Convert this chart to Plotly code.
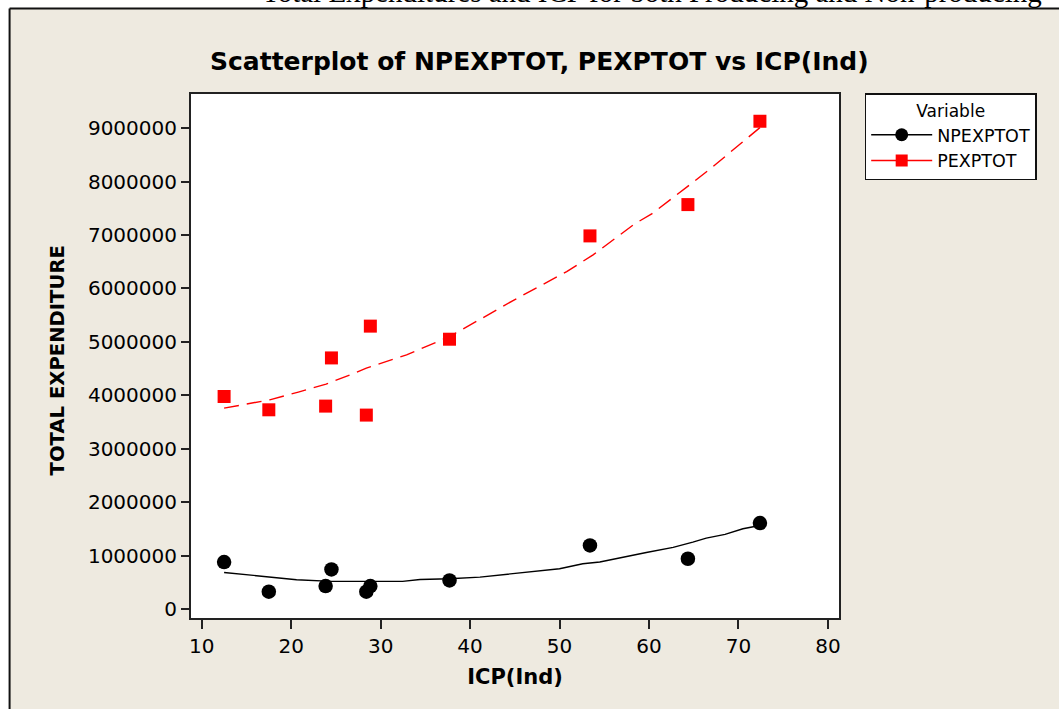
import plotly.graph_objects as go

# ---------------- data ----------------
icp = [12.5, 17.5, 23.85, 24.5, 28.4, 28.85, 37.7, 53.4, 64.35, 72.4]
npexptot = [879000, 324000, 430000, 741000, 324000, 430000, 535000, 1190000, 941000, 1609000]
pexptot = [3978000, 3729000, 3798000, 4700000, 3630000, 5295000, 5050000, 6984000, 7570000, 9130000]

# smoother (lowess) curves as drawn in the reference
np_fit_x = [12.5, 20.6, 24.5, 32.45, 34.4, 37.7, 41.1, 50.0, 52.6, 54.5, 59.7, 62.7, 64.9, 66.4, 68.5, 70.5, 72.4]
np_fit_y = [685000, 548000, 517000, 517000, 554000, 567000, 598000, 754000, 848000, 879000,
            1059000, 1153000, 1253000, 1328000, 1396000, 1502000, 1564000]
p_fit_x = [12.5, 16.5, 17.6, 20.8, 23.9, 26.6, 28.4, 32.9, 37.7, 41.1, 44.8, 50.8, 53.75, 58.4,
           60.3, 64.4, 66.8, 70.5, 72.4]
p_fit_y = [3760000, 3873000, 3916000, 4060000, 4210000, 4384000, 4509000, 4758000, 5100000, 5420000,
           5774000, 6316000, 6629000, 7209000, 7396000, 7920000, 8232000, 8748000, 9010000]

x_tickvals = [10, 20, 30, 40, 50, 60, 70, 80]
y_tickvals = [0, 1000000, 2000000, 3000000, 4000000, 5000000, 6000000, 7000000, 8000000, 9000000]
y_ticktext = ["0", "1000000", "2000000", "3000000", "4000000", "5000000", "6000000",
              "7000000", "8000000", "9000000"]

series_names = ["NPEXPTOT", "PEXPTOT"]

# ---------------- layout helpers ----------------
W, H = 1059, 709
L, R, T, B = 191, 839.3, 94, 618.3
BG = "#EEEAE0"
FONT = "DejaVu Sans"


def px2x(p):
    return (p - L) / (R - L)


def py2y(p):
    return (B - p) / (B - T)


fig = go.Figure()

# fitted curves
fig.add_trace(go.Scatter(x=np_fit_x, y=np_fit_y, mode="lines", showlegend=False,
                         line=dict(color="black", width=1.4), hoverinfo="skip"))
fig.add_trace(go.Scatter(x=p_fit_x, y=p_fit_y, mode="lines", showlegend=False,
                         line=dict(color="#FF0000", width=1.4, dash="15px,8px"), hoverinfo="skip"))

# points
fig.add_trace(go.Scatter(x=icp, y=npexptot, mode="markers", showlegend=False, name=series_names[0],
                         marker=dict(symbol="circle", size=14.5, color="black")))
fig.add_trace(go.Scatter(x=icp, y=pexptot, mode="markers", showlegend=False, name=series_names[1],
                         marker=dict(symbol="square", size=13, color="#FF0000")))

# legend entries
fig.add_trace(go.Scatter(x=[None], y=[None], mode="lines+markers", name=series_names[0],
                         line=dict(color="black", width=1.4),
                         marker=dict(symbol="circle", size=13, color="black")))
fig.add_trace(go.Scatter(x=[None], y=[None], mode="lines+markers", name=series_names[1],
                         line=dict(color="#FF0000", width=1.4),
                         marker=dict(symbol="square", size=12, color="#FF0000")))

shapes = [
    # white strip above / left of the framed graph area
    dict(type="rect", xref="paper", yref="paper", x0=px2x(-5), x1=px2x(W + 5), y0=py2y(8.5), y1=py2y(-5),
         fillcolor="white", line=dict(width=0), layer="below"),
    dict(type="rect", xref="paper", yref="paper", x0=px2x(-5), x1=px2x(9.5), y0=py2y(H + 5), y1=py2y(-5),
         fillcolor="white", line=dict(width=0), layer="below"),
    dict(type="line", xref="paper", yref="paper", x0=px2x(9.5), x1=px2x(W + 5), y0=py2y(8.5), y1=py2y(8.5),
         line=dict(color="#111111", width=2)),
    dict(type="line", xref="paper", yref="paper", x0=px2x(9.5), x1=px2x(9.5), y0=py2y(8.5), y1=py2y(H + 5),
         line=dict(color="#111111", width=2)),
]

annotations = [
    dict(text="Total Expenditures and ICP for both Producing and Non-producing",
         xref="paper", yref="paper", x=px2x(260), y=py2y(10), xanchor="left", yanchor="bottom",
         showarrow=False, font=dict(family="Liberation Serif", size=29, color="black")),
    dict(text="<b>Scatterplot of NPEXPTOT, PEXPTOT vs ICP(Ind)</b>",
         xref="paper", yref="paper", x=px2x(540), y=py2y(61), xanchor="center", yanchor="middle",
         showarrow=False, font=dict(family=FONT, size=25, color="black")),
    dict(text="<b>TOTAL EXPENDITURE</b>", textangle=-90,
         xref="paper", yref="paper", x=px2x(57), y=py2y(360.5), xanchor="center", yanchor="middle",
         showarrow=False, font=dict(family=FONT, size=19.6, color="black")),
]

fig.update_layout(
    width=W, height=H,
    margin=dict(l=L, r=W - R, t=T, b=H - B, pad=0),
    paper_bgcolor=BG, plot_bgcolor="white",
    font=dict(family=FONT, size=20, color="black"),
    shapes=shapes, annotations=annotations,
    legend=dict(
        x=px2x(865), y=py2y(93.3), xanchor="left", yanchor="top",
        bgcolor="white", bordercolor="#111111", borderwidth=1.5,
        font=dict(family=FONT, size=17.5, color="black"),
        title=dict(text="Variable", side="top center", font=dict(family=FONT, size=17)),
        itemwidth=61, tracegroupgap=0,
    ),
    xaxis=dict(
        range=[8.8, 81.24], tickvals=x_tickvals, ticks="outside", ticklen=9, tickwidth=2,
        tickcolor="#222222", showline=True, linecolor="#222222", linewidth=2, mirror=True,
        showgrid=False, zeroline=False, tickfont=dict(size=20),
        title=dict(text="<b>ICP(Ind)</b>", font=dict(size=21), standoff=12),
    ),
    yaxis=dict(
        range=[-168000, 9640000], tickvals=y_tickvals, ticktext=y_ticktext, ticks="outside",
        ticklen=8, tickwidth=2, tickcolor="#222222", showline=True, linecolor="#222222",
        linewidth=2, mirror=True, showgrid=False, zeroline=False, tickfont=dict(size=20),
    ),
)

fig.write_html("out.html")
